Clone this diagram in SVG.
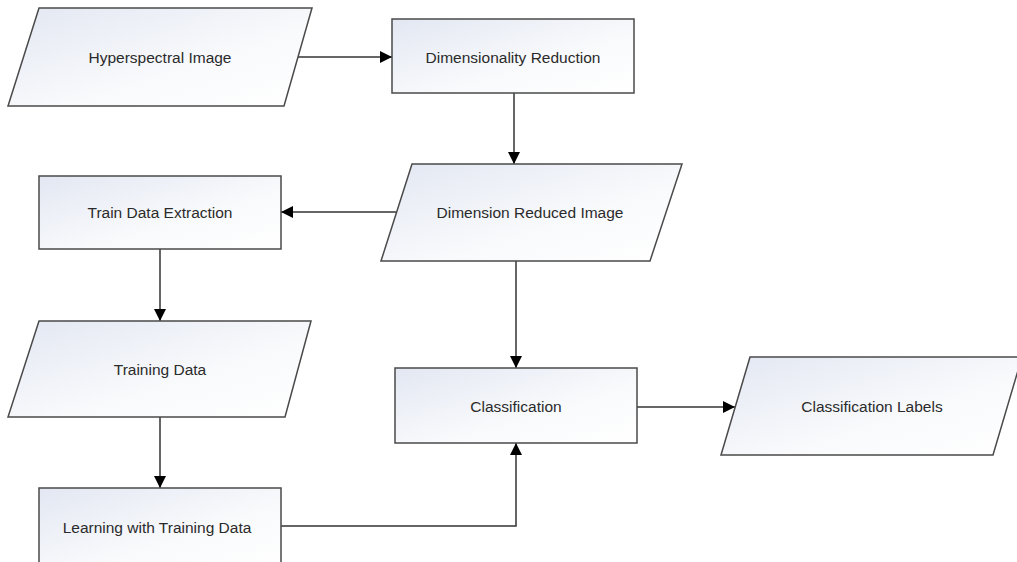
<svg xmlns="http://www.w3.org/2000/svg" width="1017" height="562" viewBox="0 0 1017 562">
<defs>
<linearGradient id="g" x1="0" y1="0" x2="1" y2="1">
<stop offset="0" stop-color="#e2e7f2"/>
<stop offset="0.6" stop-color="#f9fafc"/>
<stop offset="1" stop-color="#ffffff"/>
</linearGradient>
<marker id="ah" viewBox="0 0 12 12" refX="12" refY="6" markerWidth="12" markerHeight="12" markerUnits="userSpaceOnUse" orient="auto">
<path d="M0,0 L12,6 L0,12 Z" fill="#000"/>
</marker>
<style>
.shape{fill:url(#g);stroke:#4a4a4a;stroke-width:1.5}
.lbl{font-family:"Liberation Sans",Arial,sans-serif;font-size:15.5px;fill:#2b2b2b;text-anchor:middle;dominant-baseline:central}
.conn{fill:none;stroke:#333;stroke-width:1.5;marker-end:url(#ah)}
</style>
</defs>
<rect width="1017" height="562" fill="#fff"/>
<g id="connectors">
<path class="conn" d="M298,57 L392,57"/>
<path class="conn" d="M514,93 L514,164"/>
<path class="conn" d="M396,212 L281,212"/>
<path class="conn" d="M160,249 L160,321"/>
<path class="conn" d="M160,417 L160,488"/>
<path class="conn" d="M516,261 L516,368"/>
<path class="conn" d="M281,526 L516,526 L516,443"/>
<path class="conn" d="M637,407 L735,407"/>
</g>
<g id="hyperspectral">
<polygon class="shape" points="39,8 312,8 284,106 8,106"/>
<text class="lbl" x="160" y="57">Hyperspectral Image</text>
</g>
<g id="dimred">
<rect class="shape" x="392" y="19" width="242" height="74"/>
<text class="lbl" x="513" y="57">Dimensionality Reduction</text>
</g>
<g id="dimredimage">
<polygon class="shape" points="412,164 682,164 650,261 381,261"/>
<text class="lbl" x="530" y="212">Dimension Reduced Image</text>
</g>
<g id="trainextract">
<rect class="shape" x="39" y="176" width="242" height="73"/>
<text class="lbl" x="160" y="212">Train Data Extraction</text>
</g>
<g id="trainingdata">
<polygon class="shape" points="39,321 311,321 285,417 8,417"/>
<text class="lbl" x="160" y="369">Training Data</text>
</g>
<g id="learning">
<rect class="shape" x="39" y="488" width="242" height="80"/>
<text class="lbl" x="157" y="527">Learning with Training Data</text>
</g>
<g id="classification">
<rect class="shape" x="395" y="368" width="242" height="75"/>
<text class="lbl" x="516" y="406">Classification</text>
</g>
<g id="labels">
<polygon class="shape" points="750,357 1022,357 993,455 721,455"/>
<text class="lbl" x="872" y="406">Classification Labels</text>
</g>
</svg>
